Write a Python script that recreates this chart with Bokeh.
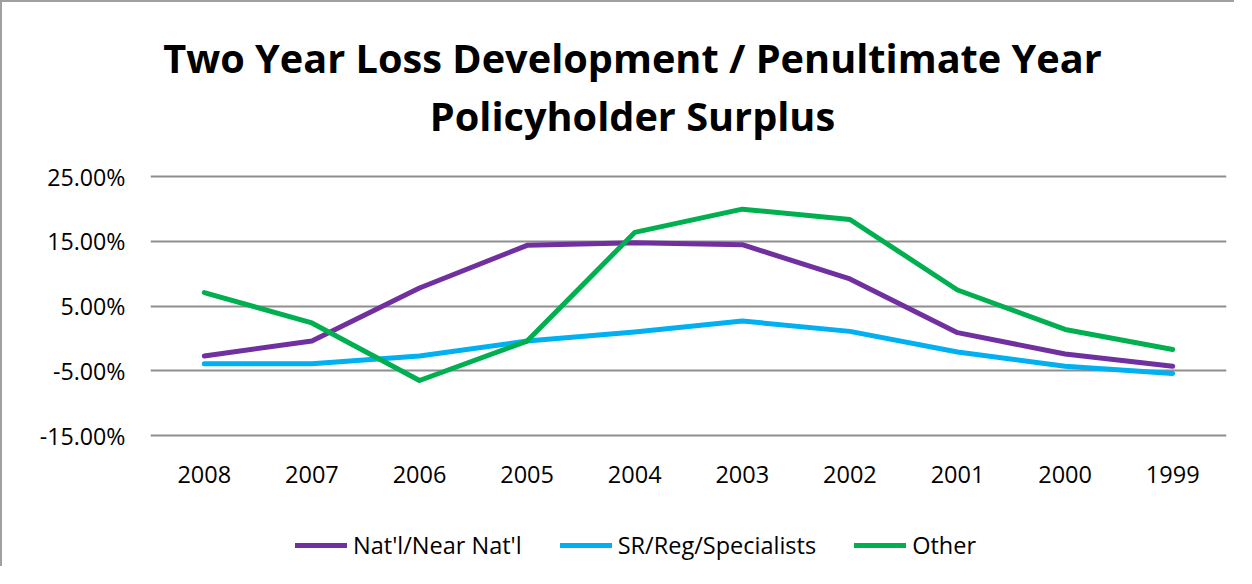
from bokeh.plotting import figure
from bokeh.models import (Range1d, FactorRange, FixedTicker, PrintfTickFormatter,
                          Legend, LegendItem, Label)
from bokeh.core.properties import value
from bokeh.embed import file_html
from bokeh.resources import INLINE

# ---- data (values in percent) ----
years = ["2008", "2007", "2006", "2005", "2004", "2003", "2002", "2001", "2000", "1999"]
natl = [-2.7, -0.4, 7.8, 14.4, 14.8, 14.5, 9.2, 0.9, -2.4, -4.3]
sr_reg = [-3.9, -3.9, -2.7, -0.4, 1.0, 2.7, 1.1, -2.1, -4.3, -5.4]
other = [7.1, 2.4, -6.5, -0.4, 16.4, 20.0, 18.4, 7.5, 1.4, -1.7]
series_names = ["Nat'l/Near Nat'l", "SR/Reg/Specialists", "Other"]
y_ticks = [-15, -5, 5, 15, 25]
title_lines = ["Two Year Loss Development / Penultimate Year", "Policyholder Surplus"]

colors = ["#7030A0", "#00B0F0", "#00B050"]
FONT = "Open Sans"
BORDER = "#a0a0a0"

# ---- layout (pixels, canvas coordinates) ----
W, H = 1234, 566
PLOT_TOP, PLOT_BOTTOM = 174.3, 433.0          # where 25% and -15% sit
PPU = (PLOT_BOTTOM - PLOT_TOP) / (y_ticks[-1] - y_ticks[0])


def px_to_val(py):
    return y_ticks[-1] - (py - PLOT_TOP) / PPU


p = figure(width=W, height=H, x_range=FactorRange(*years, range_padding=0),
           y_range=Range1d(px_to_val(H), px_to_val(0)), output_backend="svg",
           toolbar_location=None, x_axis_location=None,
           min_border_left=148, min_border_right=10, min_border_top=0, min_border_bottom=0)
p.title = None
p.outline_line_color = None
p.background_fill_color = "white"
p.border_fill_color = "white"
p.styles = {"border-left": f"2px solid {BORDER}", "border-top": f"2px solid {BORDER}"}

# grid
p.xgrid.grid_line_color = None
p.ygrid.ticker = FixedTicker(ticks=y_ticks)
p.ygrid.grid_line_color = "#8e8e8e"
p.ygrid.grid_line_width = 2

# y axis
p.yaxis.ticker = FixedTicker(ticks=y_ticks)
p.yaxis.formatter = PrintfTickFormatter(format="%.2f%%")
p.yaxis.axis_line_color = None
p.yaxis.major_tick_line_color = None
p.yaxis.minor_tick_line_color = None
p.yaxis.major_tick_out = 0
p.yaxis.major_tick_in = 0
p.yaxis.major_label_standoff = 25
p.yaxis.major_label_text_font = FONT
p.yaxis.major_label_text_font_size = "23.2px"
p.yaxis.major_label_text_color = "#000000"

# category labels under the -15% line
lab_y = px_to_val(PLOT_BOTTOM + 39)
p.text(x=years, y=[lab_y] * len(years), text=years, text_align="center",
       text_baseline="alphabetic", text_font=value(FONT), text_font_size=value("23.5px"),
       text_color="#000000")

renderers = []
for vals, col in zip([natl, sr_reg, other], colors):
    r = p.line(years, vals, line_color=col, line_width=5, line_cap="round", line_join="round")
    renderers.append(r)

legend = Legend(items=[LegendItem(label=n, renderers=[r]) for n, r in zip(series_names, renderers)],
                orientation="horizontal", location=(145, 7),
                label_text_font=FONT, label_text_font_size="23.5px", label_text_color="#000000",
                glyph_width=52, glyph_height=20, label_standoff=6, spacing=38,
                padding=0, margin=0, border_line_color=None, background_fill_alpha=0)
p.add_layout(legend, "center")

# two centred title lines over the whole chart
cx = (632 - 150) / ((W - 10 - 148) / len(years))
for txt, base_px in zip(title_lines, [55.3, 113.0]):
    p.add_layout(Label(x=cx, y=px_to_val(base_px), text=txt, text_align="center",
                       text_baseline="alphabetic", text_font=FONT, text_font_style="bold",
                       text_font_size="39.7px", text_color="#000000"))

open("out.html", "w").write(file_html(p, INLINE))
